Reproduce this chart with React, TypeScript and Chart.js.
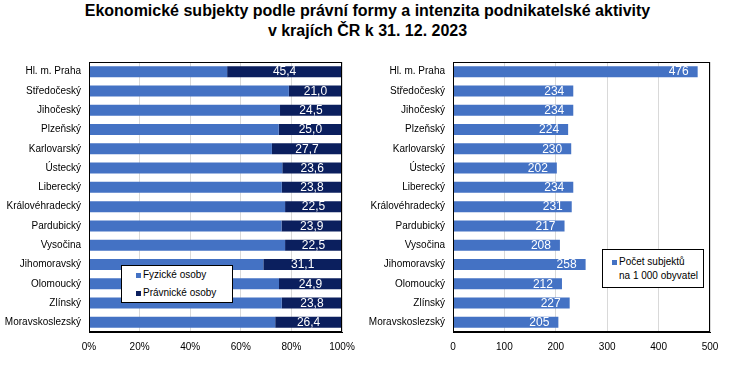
import React, { useEffect, useRef } from "react";
import { Chart, registerables } from "chart.js";

Chart.register(...registerables);

const regions = [
  "Hl. m. Praha",
  "Středočeský",
  "Jihočeský",
  "Plzeňský",
  "Karlovarský",
  "Ústecký",
  "Liberecký",
  "Královéhradecký",
  "Pardubický",
  "Vysočina",
  "Jihomoravský",
  "Olomoucký",
  "Zlínský",
  "Moravskoslezský",
];
const fyzickeOsoby = [54.6, 79.0, 75.5, 75.0, 72.3, 76.4, 76.2, 77.5, 76.1, 77.5, 68.9, 75.1, 76.2, 73.6];
const pravnickeOsoby = [45.4, 21.0, 24.5, 25.0, 27.7, 23.6, 23.8, 22.5, 23.9, 22.5, 31.1, 24.9, 23.8, 26.4];
const subjektyNa1000 = [476, 234, 234, 224, 230, 202, 234, 231, 217, 208, 258, 212, 227, 205];

const FONT = "'Liberation Sans', Arial, sans-serif";
const BLUE = "#4472C4";
const NAVY = "#0B1F5E";

const framePlugin = {
  id: "frame",
  afterDraw(chart: any) {
    const { ctx, chartArea: a } = chart;
    ctx.save();
    ctx.strokeStyle = "#000";
    ctx.lineWidth = 1;
    ctx.strokeRect(Math.round(a.left) + 0.5, Math.round(a.top) + 0.5, Math.round(a.right - a.left) - 1, Math.round(a.bottom - a.top) - 1);
    ctx.restore();
  },
};

const makeLabelPlugin = (mode: "center" | "end", dsIndex: number, fmt: (v: number) => string) => ({
  id: "valueLabels",
  afterDatasetsDraw(chart: any) {
    const { ctx } = chart;
    const meta = chart.getDatasetMeta(dsIndex);
    const data = chart.data.datasets[dsIndex].data as number[];
    ctx.save();
    ctx.fillStyle = "#fff";
    ctx.font = `12px ${FONT}`;
    ctx.textBaseline = "middle";
    meta.data.forEach((bar: any, i: number) => {
      const p = bar.getProps(["x", "y", "base"], true);
      const txt = fmt(data[i]);
      if (mode === "center") {
        ctx.textAlign = "center";
        ctx.fillText(txt, (p.x + p.base) / 2, p.y + 0.5);
      } else {
        ctx.textAlign = "right";
        ctx.fillText(txt, p.x - 9, p.y + 0.5);
      }
    });
    ctx.restore();
  },
});

function baseScales(xMax: number, step: number, xCb: (v: any) => string, yWidth: number) {
  return {
    x: {
      min: 0,
      max: xMax,
      stacked: true,
      ticks: { stepSize: step, callback: xCb, color: "#000", font: { family: FONT, size: 10 }, padding: 9, maxRotation: 0 },
      grid: { color: "#d9d9d9", drawTicks: false },
      border: { display: true, color: "#000" },
      afterFit(scale: any) {
        scale.height = 38;
      },
    },
    y: {
      stacked: true,
      ticks: { color: "#000", font: { family: FONT, size: 10 }, padding: 8, autoSkip: false },
      grid: { display: false, drawTicks: false },
      border: { display: true, color: "#000" },
      afterFit(scale: any) {
        scale.width = yWidth;
      },
    },
  };
}

export default function App() {
  const leftRef = useRef<HTMLCanvasElement>(null);
  const rightRef = useRef<HTMLCanvasElement>(null);

  useEffect(() => {
    const left = new Chart(leftRef.current!, {
      type: "bar",
      data: {
        labels: regions,
        datasets: [
          { label: "Fyzické osoby", data: fyzickeOsoby, backgroundColor: BLUE, barPercentage: 0.57, categoryPercentage: 1 },
          { label: "Právnické osoby", data: pravnickeOsoby, backgroundColor: NAVY, barPercentage: 0.57, categoryPercentage: 1 },
        ],
      },
      options: {
        indexAxis: "y",
        responsive: false,
        animation: false,
        layout: { padding: { top: 62, right: 23, left: 0, bottom: 0 } },
        plugins: { legend: { display: false }, tooltip: { enabled: false }, title: { display: false } },
        scales: baseScales(100, 20, (v: any) => `${v}%`, 89) as any,
      },
      plugins: [framePlugin, makeLabelPlugin("center", 1, (v) => v.toFixed(1).replace(".", ","))],
    });

    const right = new Chart(rightRef.current!, {
      type: "bar",
      data: {
        labels: regions,
        datasets: [
          { label: "Počet subjektů na 1 000 obyvatel", data: subjektyNa1000, backgroundColor: BLUE, barPercentage: 0.57, categoryPercentage: 1 },
        ],
      },
      options: {
        indexAxis: "y",
        responsive: false,
        animation: false,
        layout: { padding: { top: 62, right: 25, left: 0, bottom: 0 } },
        plugins: { legend: { display: false }, tooltip: { enabled: false }, title: { display: false } },
        scales: baseScales(500, 100, (v: any) => `${v}`, 88) as any,
      },
      plugins: [framePlugin, makeLabelPlugin("end", 0, (v) => String(v))],
    });

    return () => {
      left.destroy();
      right.destroy();
    };
  }, []);

  const legendText: React.CSSProperties = {
    position: "absolute",
    fontFamily: FONT,
    fontSize: 10,
    lineHeight: "12px",
    color: "#000",
    whiteSpace: "nowrap",
  };
  const marker = (color: string, x: number, y: number): React.CSSProperties => ({
    position: "absolute",
    left: x,
    top: y,
    width: 5,
    height: 5,
    background: color,
  });

  return (
    <div style={{ position: "absolute", left: 0, top: 0, width: 735, height: 370, background: "#fff", overflow: "hidden" }}>
      <div
        style={{
          position: "absolute",
          left: 0,
          top: 1,
          width: 735,
          textAlign: "center",
          fontFamily: FONT,
          fontWeight: "bold",
          fontSize: 16,
          lineHeight: "20px",
          color: "#000",
        }}
      >
        Ekonomické subjekty podle právní formy a intenzita podnikatelské aktivity
        <br />v krajích ČR k 31. 12. 2023
      </div>
      <canvas ref={leftRef} width={365} height={370} style={{ position: "absolute", left: 0, top: 0, width: 365, height: 370 }} />
      <canvas ref={rightRef} width={370} height={370} style={{ position: "absolute", left: 365, top: 0, width: 370, height: 370 }} />

      <div style={{ position: "absolute", left: 121, top: 265, width: 110, height: 36, border: "1px solid #000", background: "#fff" }} />
      <div style={marker(BLUE, 136, 273)} />
      <div style={{ ...legendText, left: 143, top: 269 }}>Fyzické osoby</div>
      <div style={marker(NAVY, 136, 291)} />
      <div style={{ ...legendText, left: 143, top: 287 }}>Právnické osoby</div>

      <div style={{ position: "absolute", left: 602, top: 249, width: 100, height: 37, border: "1px solid #000", background: "#fff" }} />
      <div style={marker(BLUE, 612, 260)} />
      <div style={{ ...legendText, left: 619, top: 256 }}>Počet subjektů</div>
      <div style={{ ...legendText, left: 619, top: 270 }}>na 1 000 obyvatel</div>
    </div>
  );
}
